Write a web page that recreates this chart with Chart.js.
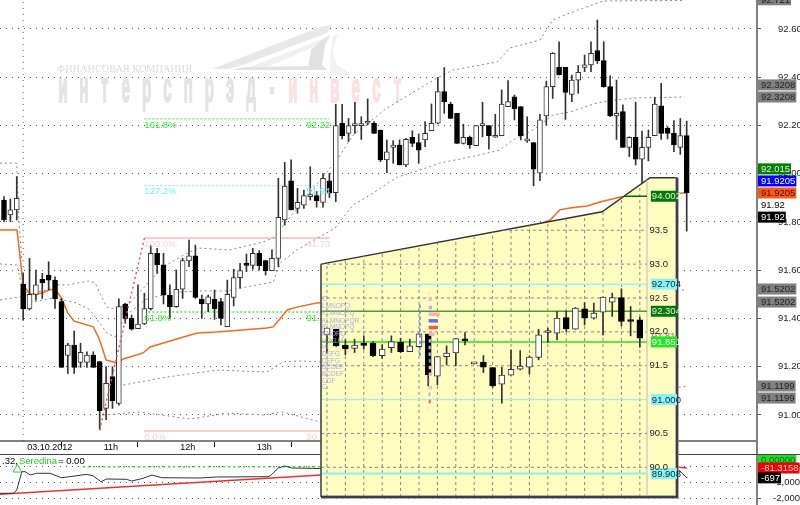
<!DOCTYPE html>
<html>
<head>
<meta charset="utf-8">
<script src="https://cdn.jsdelivr.net/npm/chart.js@4/dist/chart.umd.js"></script>
<style>
  html, body { margin: 0; padding: 0; background: #fff; width: 800px; height: 505px; overflow: hidden; }
  canvas { position: absolute; left: 0; }
  .rule { position: absolute; }
</style>
</head>
<body>
<canvas id="mainChart" width="800" height="454" style="top:0"></canvas>
<canvas id="lowerChart" width="800" height="51" style="top:454px"></canvas>
<div class="rule" style="left:756px;top:441px;width:2px;height:14px;background:#808080"></div>
<div class="rule" style="left:0;top:454px;width:800px;height:1px;background:#444"></div>
<canvas id="insetChart" width="800" height="505" style="top:0"></canvas>
<script>
// main pane, 5 minute candles
const candleHigh = [91.905,91.895,91.988,91.587,91.649,91.601,91.587,91.635,91.573,91.483,
  91.297,91.348,91.297,91.262,91.262,91.221,91.200,91.200,91.481,91.463,
  91.414,91.539,91.504,91.704,91.691,91.670,91.539,91.601,91.649,91.725,
  91.704,91.497,91.497,91.518,91.483,91.559,91.604,91.628,91.667,91.691,
  91.681,91.642,91.684,91.981,92.047,92.057,91.939,91.932,92.029,91.926,
  92.001,92.001,92.288,92.288,92.229,92.296,92.236,92.310,92.216,92.181,
  92.140,92.137,92.140,92.147,92.178,92.165,92.216,92.289,92.398,92.440,
  92.296,92.250,92.205,92.156,92.199,92.296,92.199,92.246,92.347,92.386,
  92.326,92.278,92.236,92.129,92.246,92.384,92.502,92.547,92.441,92.409,
  92.448,92.492,92.547,92.637,92.547,92.406,92.388,92.285,92.153,92.296,
  92.177,92.181,92.317,92.375,92.195,92.220,92.229,92.218];
const candleOpen = [91.891,91.829,91.850,91.541,91.439,91.500,91.562,91.580,91.559,91.470,
  91.247,91.290,91.218,91.218,91.248,91.221,91.027,91.159,91.048,91.460,
  91.400,91.358,91.377,91.441,91.670,91.622,91.497,91.449,91.521,91.638,
  91.660,91.479,91.460,91.479,91.470,91.366,91.487,91.569,91.628,91.620,
  91.670,91.640,91.598,91.649,91.808,91.970,91.856,91.870,91.905,91.909,
  91.881,91.970,91.921,92.209,92.167,92.199,92.199,92.209,92.209,92.181,
  92.057,92.109,92.119,92.036,92.151,92.129,92.140,92.178,92.209,92.340,
  92.289,92.250,92.126,92.151,92.116,92.199,92.199,92.151,92.158,92.278,
  92.319,92.278,92.136,92.129,92.002,92.239,92.361,92.441,92.441,92.329,
  92.388,92.441,92.451,92.510,92.469,92.361,92.239,92.257,92.109,92.151,
  92.060,92.109,92.158,92.281,92.189,92.167,92.109,92.158];
const candleClose = [91.808,91.850,91.898,91.439,91.500,91.539,91.548,91.559,91.481,91.197,
  91.290,91.197,91.260,91.248,91.197,91.018,91.131,91.059,91.449,91.400,
  91.356,91.377,91.441,91.670,91.622,91.497,91.449,91.521,91.640,91.660,
  91.487,91.460,91.490,91.439,91.400,91.500,91.569,91.598,91.620,91.670,
  91.619,91.598,91.649,91.819,91.949,91.850,91.881,91.909,91.905,91.888,
  91.981,91.919,92.199,92.158,92.199,92.199,92.199,92.209,92.167,92.057,
  92.091,92.119,92.036,92.142,92.126,92.098,92.167,92.209,92.340,92.299,
  92.229,92.126,92.151,92.119,92.199,92.199,92.158,92.151,92.289,92.299,
  92.268,92.158,92.136,92.019,92.223,92.361,92.499,92.409,92.337,92.388,
  92.420,92.451,92.499,92.469,92.361,92.239,92.250,92.109,92.151,92.060,
  92.109,92.151,92.289,92.167,92.167,92.119,92.158,91.921];
const candleLow = [91.801,91.801,91.808,91.394,91.435,91.476,91.483,91.518,91.442,91.197,
  91.172,91.172,91.197,91.197,91.197,90.938,90.980,91.027,91.041,91.380,
  91.352,91.358,91.374,91.435,91.587,91.460,91.400,91.446,91.483,91.615,
  91.483,91.400,91.428,91.396,91.373,91.366,91.452,91.525,91.594,91.604,
  91.601,91.580,91.598,91.615,91.787,91.850,91.836,91.856,91.891,91.861,
  91.861,91.901,91.884,92.144,92.133,92.167,92.142,92.202,92.167,92.050,
  92.004,92.043,92.036,92.029,92.112,92.043,92.112,92.178,92.206,92.250,
  92.229,92.126,92.123,92.105,92.116,92.153,92.102,92.151,92.158,92.278,
  92.223,92.140,92.130,91.950,91.971,92.202,92.312,92.409,92.225,92.299,
  92.333,92.423,92.423,92.457,92.358,92.236,92.142,92.109,92.071,92.036,
  91.946,92.053,92.158,92.142,92.144,92.091,92.080,91.762];

const maIndex = [-0.63,2.04,3,4.07,5,6,7,8,9,10,11,14,15,16,17.7,18.7,21.8,22.9,25,27.6,30.3,33.4,41.2,42.2,44.4,45.9,49,51.1,85.6,87.1,88.7,91.4,93.4,96.6,106.7,107];
const maPrice = [91.767,91.767,91.539,91.501,91.501,91.505,91.518,91.522,91.485,91.423,91.389,91.365,91.311,91.228,91.215,91.232,91.257,91.282,91.298,91.319,91.340,91.344,91.360,91.365,91.435,91.447,91.464,91.468,91.808,91.850,91.858,91.866,91.883,91.903,91.920,91.9205];

const bandAIndex = [-0.63,2.5,5.2,6.7,8,10,13.2,14.3,15,16.1,17.4,19.7,24.9,27.6,30.4,35.4,40.6,42.2,47.2,52.2,54.7,60,67.9,70.4,77.3,79.3,84,86,88.7,93.9,106.7];
const bandAPrice = [91.477,91.489,91.510,91.518,91.539,91.539,91.555,91.547,91.505,91.447,91.439,91.464,91.613,91.655,91.692,91.684,91.717,91.733,91.899,92.057,92.160,92.272,92.397,92.430,92.463,92.521,92.554,92.637,92.666,92.716,92.718];
const bandBIndex = [-0.63,2,2.8,4.5,7.7,9.1,11.4,13.5,15,16.1,17.4,19,22.1,26,30.4,35,37,42.2,43.3,45.9,49.5,51.9,54.7,57.4,61.6,65.2,68.3,74.6,77.7,79.8,82.9,86,88.7,92.9,95.5,99.2,106.7];
const bandBPrice = [91.626,91.622,91.539,91.468,91.485,91.477,91.464,91.435,91.381,91.340,91.323,91.410,91.477,91.506,91.514,91.514,91.526,91.551,91.630,91.684,91.738,91.775,91.870,91.912,91.986,92.015,92.044,92.078,92.098,92.140,92.181,92.243,92.256,92.293,92.305,92.314,92.318];
const bandCIndex = [18.7,25.5,33.4,41.2,43.7,46.4,49.5,106.3,107];
const bandCPrice = [91.124,91.157,91.186,91.178,91.220,91.224,91.220,91.518,91.520];
const bandDIndex = [15.5,21.3,29.2,35,40.6,43.7,49.5,106.3,107];
const bandDPrice = [91.000,91.012,90.983,91.008,91.000,91.012,90.971,91.116,91.120];
const priorUpperIndex = [-0.63,2,2.3,2.8];
const priorUpperPrice = [92.044,92.044,91.820,91.640];

const swingIndex = [15,22];
const swingPrice = [90.938,91.733];
const fibPrices = [92.227,91.950,91.733,91.427,90.933];
const fibColors = ['#33ee33','#77eeee','#ffb8b8','#44ee44','#ffb8b8'];
const fibDashes = [[2,2],[2,2],[],[2,2],[]];
const fibWidths = [1,1,1.5,1.5,1.5];
const fibPercent = ['161.8%','127.2%','100.0%','61.8%','0.0%'];
const fibValues = ['92.22','91.94','91.73','91.4','90.93'];
const fibText = ['#33ee33','#77eeee','#ffd0d0','#33ee33','#ffd0d0'];

const priceTicks = [92.6,92.4,92.2,92.0,91.8,91.6,91.4,91.2,91.0];
const timeTicks = [3,15,27,39];
const timeLabels = ['03.10.2012','11h','12h','13h'];

const mainTagPrices = [92.721,92.368,92.318,92.020,91.970,91.920,91.870,91.820,91.522,91.468,91.120,91.070];
const mainTagLabels = ['92.721','92.3208','92.3208','92.015','91.9205','91.9205','91.92','91.92','91.5202','91.5202','91.1199','91.1199'];
const mainTagFill = ['#808080','#808080','#808080','#008000','#0000ff','#ff5a14','','#000','#808080','#808080','#808080','#808080'];
const mainTagInk = ['#222','#222','#222','#eee','#fff','#401000','#000','#fff','#222','#222','#222','#222'];

// lower oscillator pane
const oscIndex = [-0.63,1.5,2,2.8,3.3,4.1,5.1,7.2,9,10.3,13,14,15.2,16.1,19.2,20,21.8,23.2,24.7,30.7,33.3,41.2,41.7,43,44,45.1,49.5,105.3,106.9,107];
const oscValue = [-1662,-1662,-1456,-312,-312,-519,-412,-412,-688,-625,-475,-581,-938,-769,-788,-894,-725,-519,-688,-706,-644,-625,-581,-81,44,-81,-112,-19,-644,-697];
const signalIndex = [-0.63,49.7,105.3,107];
const signalValue = [-1725,-519,-20,-81];
const middleIndex = [12.4,49.7];
const middleValue = [0,0];
const alertIndex = [2.1];
const alertValue = [-175];
const oscTicks = [0,-1000,-2000];
const oscTagValues = [420,-81,-697];
const oscTagLabels = ['0.00000','-81.3158','-697'];
const oscTagFill = ['#22dd22','#f00000','#000'];
const oscTagInk = ['#063','#ffd8d8','#fff'];

// inset, 15 minute candles
const insetHigh = [92.054,92.039,91.882,91.892,91.941,91.857,91.808,91.941,91.906,91.892,91.970,91.966,91.635,91.793,91.901,91.990,91.527,91.650,91.473,91.478,91.734,91.724,91.645,92.039,92.054,92.300,92.310,92.360,92.433,92.424,92.512,92.571,92.635,92.374,92.217];
const insetOpen = [91.956,92.039,91.803,91.754,91.833,91.833,91.650,91.768,91.847,91.709,91.783,91.966,91.345,91.635,91.690,91.892,91.527,91.552,91.473,91.227,91.360,91.448,91.478,91.621,91.990,91.980,92.212,92.039,92.340,92.202,92.291,92.438,92.507,92.177,92.177];
const insetClose = [92.054,91.793,91.749,91.803,91.798,91.650,91.744,91.857,91.709,91.793,91.970,91.365,91.635,91.685,91.901,91.867,91.527,91.478,91.202,91.360,91.448,91.493,91.626,91.956,91.990,92.202,92.044,92.350,92.202,92.276,92.512,92.507,92.153,92.153,91.906];
const insetLow = [91.685,91.783,91.660,91.695,91.744,91.635,91.611,91.695,91.695,91.709,91.773,91.202,91.217,91.512,91.497,91.808,91.527,91.399,91.182,90.946,91.360,91.438,91.379,91.586,91.842,91.882,92.005,92.039,92.103,92.187,91.956,92.227,92.089,91.941,91.773];

const panelEdgeIndex = [-0.65,29.9,35.1,38.04];
const panelEdgePrice = [93.0,93.773,94.276,94.276];
const insetTicks = [93.5,93.0,92.5,92.0,91.5,91.0,90.5,90.0];
const insetLevels = [92.704,92.304,91.851,91.0,89.908];
const insetLevelColors = ['#99f3ee','#4f9a3a','#22e622','#99f3ee','#88f3ee'];
const insetLevelWidths = [1.5,1.5,1.5,1,2];
const insetTagPrices = [94.002,92.704,92.304,91.941,91.851,91.0,89.908];
const insetTagLabels = ['94.002','92.704','92.304','91.81','91.851','91.000','89.908'];
const insetTagFill = ['#007a00','#88f4f4','#007a00','','#22e622','#88f4f4','#88f4f4'];
const insetTagInk = ['#eee','#124','#eee','#777','#fff','#124','#124'];

const profilePrices = [92.571,92.483,92.360,92.261,92.163,92.064,91.966,91.867,91.768,91.670,91.571,91.473,91.374,91.276,91.177,91.079,90.970,90.872];
const profileSizes = [0.05,0.36,0.36,1.2,1.0,0.94,0.65,0.29,0.22,0.22,0.22,0.43,0.36,0.14,0.36,0.18,0.22,0.07];
const profileColors = ['#b8b8f4','#f8b8b8','#b0b0f0','#f8b0b0','#6a6af0','#ff5050','#f8b0b0','#b0b0f0','#c0c0f4','#c0c0f4','#8080f0','#f8b8b8','#f8b8b8','#c0c0f4','#f8b8b8','#a8a8f0','#ff6060','#f8c8c8'];
const valueAreaIndex = [10.1,10.1];
const valueAreaPrice = [92.399,91.635];

const tpoPrices = [92.483,92.374,92.271,92.163,92.064,91.966,91.867,91.768,91.670,91.571,91.473,91.374,91.276,91.177];
const tpoLabels = ['O','LMNOPQ','KLMNOPQ','KLMNOPQR','KLMNOPQ','KNOPQ','HJKLM','HI','DEFG','DEFG','BCDEF','BCDEF','CDF','C'];

const fontFamily = '"Liberation Sans", Arial, sans-serif';
const mainXMin = -0.627, mainXMax = 118.02;

function pairs(xs, ys) {
  return xs.map((x, i) => ({ x, y: ys[i] }));
}

function plainLine(label, data, color, extra) {
  return Object.assign({
    type: 'line', label, data, borderColor: color, borderWidth: 1,
    pointRadius: 0, tension: 0, fill: false
  }, extra);
}

function candleSets(high, low, open, close, bodyWidth, order) {
  const xs = high.map((_, i) => i);
  const up = open.map((o, i) => close[i] >= o);
  return [
    {
      label: 'body', order, grouped: false, barThickness: bodyWidth, minBarLength: 2,
      data: xs.map(i => ({ x: i, y: [open[i], close[i]] })),
      backgroundColor: up.map(u => u ? '#fff' : '#000'),
      borderColor: up.map(u => u ? '#333' : '#000'),
      borderWidth: 1, borderSkipped: false
    },
    {
      label: 'wick', order: order + 1, grouped: false, barThickness: 1,
      data: xs.map(i => ({ x: i, y: [low[i], high[i]] })),
      backgroundColor: '#333'
    }
  ];
}

function drawTags(chart, x, prices, labels, fills, inks, scaleId, maxRight) {
  const ctx = chart.ctx;
  const yScale = chart.scales[scaleId];
  ctx.save();
  ctx.font = '9.5px ' + fontFamily;
  ctx.textBaseline = 'middle';
  ctx.textAlign = 'left';
  labels.forEach((text, i) => {
    const y = yScale.getPixelForValue(prices[i]);
    let w = ctx.measureText(text).width + 4;
    if (maxRight) w = maxRight - x;
    if (fills[i]) {
      ctx.fillStyle = fills[i];
      ctx.fillRect(x, y - 5.5, w, 11);
    }
    ctx.fillStyle = inks[i];
    ctx.fillText(text, x + (maxRight ? 1 : 3), y + 0.5);
  });
  ctx.restore();
}

const watermark = {
  id: 'watermark',
  beforeDatasetsDraw(chart) {
    const ctx = chart.ctx;
    const logoShapes = [
      ['#e8e8e8', [[212,69],[320,27],[332,25],[327,33],[240,66],[228,69]]],
      ['#f0f0f0', [[245,69],[330,36],[328,41],[262,69]]],
      ['#e2e2e2', [[245,67],[322,66],[327,70],[232,70]]],
      ['#e2e2e2', [[322,40],[330,35],[325,45],[322,65],[327,69],[308,69],[311,50]]],
      ['#f2f2f2', [[333,36],[338,34],[333,50],[336,64],[352,75],[330,75],[330,58]]]
    ];
    ctx.save();
    logoShapes.forEach(([color, pts]) => {
      ctx.fillStyle = color;
      ctx.beginPath();
      pts.forEach((p, i) => i ? ctx.lineTo(p[0], p[1]) : ctx.moveTo(p[0], p[1]));
      ctx.closePath();
      ctx.fill();
    });
    ctx.fillStyle = '#dcdcdc';
    ctx.font = '10.3px "Liberation Serif", serif';
    ctx.textAlign = 'left';
    ctx.textBaseline = 'alphabetic';
    ctx.fillText('ФИНАНСОВАЯ КОМПАНИЯ', 57, 72);
    ctx.font = 'bold 42px ' + fontFamily;
    ctx.textAlign = 'center';
    ctx.lineWidth = 2;
    Array.from('интерспрэд-инвест').forEach((ch, i) => {
      ctx.save();
      ctx.translate(63 + 20.9 * i, 102);
      ctx.scale(0.36, 1);
      ctx.fillStyle = i > 10 ? '#fde0e0' : '#e4e4e4';
      ctx.strokeStyle = ctx.fillStyle;
      ctx.fillText(ch, 0, 0);
      ctx.strokeText(ch, 0, 0);
      ctx.restore();
    });
    ctx.restore();
  }
};

const mainLabels = {
  id: 'mainLabels',
  afterDatasetsDraw(chart) {
    const ctx = chart.ctx, x = chart.scales.x, y = chart.scales.y;
    ctx.save();
    ctx.font = '9.5px ' + fontFamily;
    ctx.textBaseline = 'middle';
    ctx.textAlign = 'left';
    fibPrices.forEach((p, i) => {
      ctx.fillStyle = fibText[i];
      const py = y.getPixelForValue(p) + 6;
      ctx.fillText(fibPercent[i], x.getPixelForValue(22), py);
      ctx.fillText(fibValues[i], x.getPixelForValue(47.4), py);
    });
    ctx.restore();
    drawTags(chart, chart.chartArea.right + 1, mainTagPrices, mainTagLabels, mainTagFill, mainTagInk, 'y');
  }
};

const lowerLabels = {
  id: 'lowerLabels',
  afterDatasetsDraw(chart) {
    const ctx = chart.ctx;
    ctx.save();
    ctx.font = '9.5px ' + fontFamily;
    ctx.textBaseline = 'middle';
    ctx.textAlign = 'left';
    ctx.fillStyle = '#000';
    ctx.fillText('.32,', 2, 7);
    ctx.fillStyle = '#22cc22';
    ctx.fillText('Seredina', 19, 7);
    ctx.fillStyle = '#000';
    ctx.fillText('= 0.00', 58, 7);
    ctx.restore();
    drawTags(chart, chart.chartArea.right + 1, oscTagValues, oscTagLabels, oscTagFill, oscTagInk, 'y');
  }
};

const insetLabels = {
  id: 'insetLabels',
  afterDatasetsDraw(chart) {
    const ctx = chart.ctx, x = chart.scales.x, y = chart.scales.y;
    ctx.save();
    ctx.beginPath();
    ctx.rect(chart.chartArea.left, chart.chartArea.top, chart.chartArea.width, chart.chartArea.height);
    ctx.clip();
    ctx.font = '6.5px ' + fontFamily;
    ctx.textBaseline = 'middle';
    ctx.textAlign = 'left';
    ctx.fillStyle = '#a8a8ee';
    tpoPrices.forEach((p, i) => ctx.fillText(tpoLabels[i], chart.chartArea.left + 1, y.getPixelForValue(p)));
    ctx.restore();
    drawTags(chart, x.getPixelForValue(35.2), insetTagPrices, insetTagLabels, insetTagFill, insetTagInk, 'y', chart.chartArea.right);
  }
};

// main pane
const mainSets = [
  ...candleSets(candleHigh, candleLow, candleOpen, candleClose, 5, 2),
  plainLine('swing', pairs(swingIndex, swingPrice), '#f05050', { borderDash: [2, 3], borderWidth: 1.5, order: 1 }),
  plainLine('ma', pairs(maIndex, maPrice), '#f26a1f', { borderWidth: 1.5, order: 4 }),
  plainLine('bandA', pairs(bandAIndex, bandAPrice), '#888', { borderDash: [2, 3], order: 5 }),
  plainLine('bandB', pairs(bandBIndex, bandBPrice), '#888', { borderDash: [2, 3], order: 5 }),
  plainLine('bandC', pairs(bandCIndex, bandCPrice), '#888', { borderDash: [2, 3], order: 5 }),
  plainLine('bandD', pairs(bandDIndex, bandDPrice), '#888', { borderDash: [2, 3], order: 5 }),
  plainLine('bandPrior', pairs(priorUpperIndex, priorUpperPrice), '#888', { borderDash: [2, 3], order: 5 }),
  plainLine('date', pairs([3, 3], [90.892, 92.72]), '#555', { borderDash: [1, 5], order: 7 })
];
fibPrices.forEach((p, i) => {
  mainSets.push(plainLine('fib' + i, pairs([22, 51], [p, p]), fibColors[i], {
    borderDash: fibDashes[i], borderWidth: fibWidths[i], order: 6
  }));
});

new Chart(document.getElementById('mainChart'), {
  type: 'bar',
  data: { datasets: mainSets },
  plugins: [watermark, mainLabels],
  options: {
    responsive: false,
    animation: false,
    layout: { padding: 0, autoPadding: false },
    plugins: { legend: { display: false }, tooltip: { enabled: false } },
    scales: {
      x: {
        type: 'linear', min: mainXMin, max: mainXMax, offset: false,
        afterBuildTicks: s => { s.ticks = timeTicks.map(value => ({ value })); },
        afterFit: s => { s.height = 13; s.paddingLeft = 0; s.paddingRight = 0; },
        grid: { drawOnChartArea: false, drawTicks: true, tickLength: 6, tickColor: '#000', tickWidth: 1 },
        border: { display: true, color: '#808080', width: 2 },
        ticks: {
          autoSkip: false, maxRotation: 0, minRotation: 0, align: 'start', labelOffset: 4, padding: -5,
          color: '#000', font: { family: fontFamily, size: 9 },
          callback: (v) => timeLabels[timeTicks.indexOf(v)]
        }
      },
      y: {
        position: 'right', min: 90.892, max: 92.72,
        afterBuildTicks: s => { s.ticks = priceTicks.map(value => ({ value })); },
        afterFit: s => { s.width = 43; s.paddingTop = 0; s.paddingBottom = 0; },
        grid: { color: '#555', tickLength: 4, tickColor: '#555' },
        border: { display: true, color: '#808080', width: 2, dash: [1, 5] },
        ticks: {
          padding: 17, color: '#222', font: { family: fontFamily, size: 9.5 },
          callback: v => v.toFixed(2)
        }
      }
    }
  }
});

// lower pane
new Chart(document.getElementById('lowerChart'), {
  type: 'line',
  data: {
    datasets: [
      plainLine('osc', pairs(oscIndex, oscValue), '#333', { order: 1 }),
      plainLine('signal', pairs(signalIndex, signalValue), '#f03030', { borderWidth: 1.5, order: 2 }),
      plainLine('middle', pairs(middleIndex, middleValue), '#33dd33', { borderDash: [2, 3], borderWidth: 1.5, order: 3 }),
      {
        type: 'scatter', label: 'alert', order: 0, data: pairs(alertIndex, alertValue),
        pointStyle: 'triangle', pointRadius: 5, pointBorderColor: '#33cc33', pointBackgroundColor: 'transparent', pointBorderWidth: 1
      }
    ]
  },
  plugins: [lowerLabels],
  options: {
    responsive: false,
    animation: false,
    layout: { padding: 0, autoPadding: false },
    plugins: { legend: { display: false }, tooltip: { enabled: false } },
    scales: {
      x: { type: 'linear', min: mainXMin, max: mainXMax, display: false },
      y: {
        position: 'right', min: -2394, max: 794,
        afterBuildTicks: s => { s.ticks = oscTicks.map(value => ({ value })); },
        afterFit: s => { s.width = 43; s.paddingTop = 0; s.paddingBottom = 0; },
        grid: { color: '#555', tickLength: 4, tickColor: '#555' },
        border: { display: true, color: '#808080', width: 2, dash: [1, 5] },
        ticks: {
          crossAlign: 'far', color: '#222', font: { family: fontFamily, size: 9.5 },
          callback: v => v.toLocaleString('en-US')
        }
      }
    }
  }
});

// inset
function edgePriceAt(idx) {
  for (let i = 1; i < panelEdgeIndex.length; i++) {
    if (idx <= panelEdgeIndex[i]) {
      const t = (idx - panelEdgeIndex[i - 1]) / (panelEdgeIndex[i] - panelEdgeIndex[i - 1]);
      return panelEdgePrice[i - 1] + t * (panelEdgePrice[i] - panelEdgePrice[i - 1]);
    }
  }
  return panelEdgePrice[panelEdgePrice.length - 1];
}

function edgeIndexAt(price) {
  for (let i = 1; i < panelEdgePrice.length; i++) {
    if (price <= panelEdgePrice[i]) {
      const t = (price - panelEdgePrice[i - 1]) / (panelEdgePrice[i] - panelEdgePrice[i - 1]);
      return panelEdgeIndex[i - 1] + Math.max(t, 0) * (panelEdgeIndex[i] - panelEdgeIndex[i - 1]);
    }
  }
  return panelEdgeIndex[panelEdgeIndex.length - 1];
}

const insetXMin = -0.65, insetXMax = 38.04, insetAxisIndex = 34.78;
const insetYMin = 89.562, insetYMax = 94.286;

const insetSets = [
  plainLine('panel', pairs(panelEdgeIndex, panelEdgePrice), '#333', {
    fill: 'start', backgroundColor: '#fffec0', borderWidth: 1.5, order: 20, clip: false
  }),
  plainLine('shadow', pairs([insetXMax, insetXMax, insetXMin], [94.276, insetYMin, insetYMin]), '#999', { borderWidth: 3.5, order: 19, clip: false }),
  plainLine('outline', pairs([insetXMax, insetXMax, insetXMin], [94.276, insetYMin, insetYMin]), '#222', { borderWidth: 1.5, order: 0, clip: false }),
  plainLine('outlineLeft', pairs([insetXMin, insetXMin], [93.0, insetYMin]), '#555', { order: 0, clip: false }),
  plainLine('axis', pairs([insetAxisIndex, insetAxisIndex], [insetYMin, edgePriceAt(insetAxisIndex)]), '#bbb', { order: 17 }),
  plainLine('level94', pairs([edgeIndexAt(94.002), insetAxisIndex], [94.002, 94.002]), '#006e00', { borderWidth: 1.5, order: 9 }),
  plainLine('valueArea', pairs(valueAreaIndex, valueAreaPrice), '#6666ff', { borderDash: [3, 3], borderWidth: 1.5, order: 6 }),
  ...candleSets(insetHigh, insetLow, insetOpen, insetClose, 6, 7)
];
for (let i = 0; i <= 34; i += 2) {
  insetSets.push(plainLine('vgrid' + i, pairs([i, i], [insetYMin, edgePriceAt(i)]), '#888', { borderDash: [3, 3], order: 18 }));
}
insetTicks.forEach(p => {
  insetSets.push(plainLine('hgrid' + p, pairs([edgeIndexAt(p), insetAxisIndex], [p, p]), '#888', { borderDash: [3, 3], order: 18 }));
});
insetLevels.forEach((p, i) => {
  insetSets.push(plainLine('level' + i, pairs([insetXMin, insetAxisIndex], [p, p]), insetLevelColors[i], { borderWidth: insetLevelWidths[i], order: 10 }));
});
profilePrices.forEach((p, i) => {
  insetSets.push(plainLine('profile' + i, pairs([11.05, 11.05 + profileSizes[i]], [p, p]), profileColors[i], { borderWidth: 3.5, order: 1 }));
});

new Chart(document.getElementById('insetChart'), {
  type: 'bar',
  data: { datasets: insetSets },
  plugins: [insetLabels],
  options: {
    responsive: false,
    animation: false,
    layout: { padding: { left: 321, right: 123, top: 177, bottom: 8 }, autoPadding: false },
    plugins: { legend: { display: false }, tooltip: { enabled: false } },
    scales: {
      x: { type: 'linear', min: insetXMin, max: insetXMax, offset: false, display: false },
      y: {
        position: 'right', min: insetYMin, max: insetYMax,
        afterBuildTicks: s => { s.ticks = insetTicks.map(value => ({ value })); },
        afterFit: s => { s.width = 0; s.paddingTop = 0; s.paddingBottom = 0; },
        grid: { display: false, drawTicks: false },
        border: { display: false },
        ticks: {
          mirror: true, padding: -9, z: 1, color: '#222', font: { family: fontFamily, size: 9.5 },
          callback: v => (v === 91 ? '' : v.toFixed(1))
        }
      }
    }
  }
});
</script>
</body>
</html>
